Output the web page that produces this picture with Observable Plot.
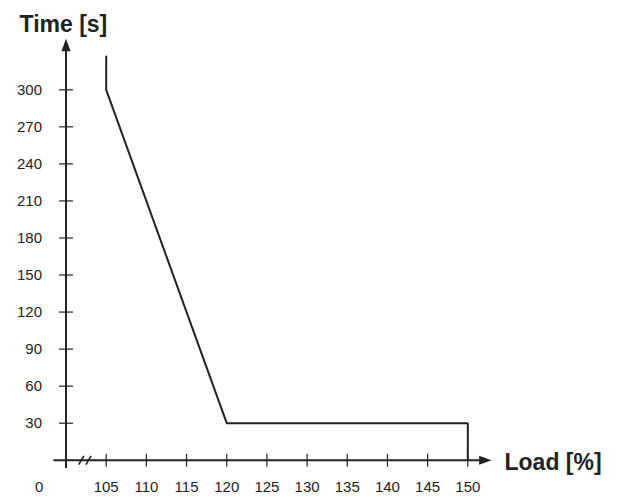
<!DOCTYPE html>
<html>
<head>
<meta charset="utf-8">
<script src="https://cdn.jsdelivr.net/npm/d3@7"></script>
<script src="https://cdn.jsdelivr.net/npm/@observablehq/plot@0.6"></script>
<style>
  html, body { margin: 0; padding: 0; background: #ffffff; }
  #chart svg { display: block; }
</style>
</head>
<body>
<div id="chart"></div>
<script>
// ---- data ----
const loadPct = [105, 105, 120, 150, 150];
const timeS   = [327, 300, 30, 30, 0];
const xTicks  = [105, 110, 115, 120, 125, 130, 135, 140, 145, 150];
const yTicks  = [30, 60, 90, 120, 150, 180, 210, 240, 270, 300];
const xTickLabels = xTicks.map(String);
const yTickLabels = yTicks.map(String);
const originLabel = "0";
const xTitle = "Load [%]";
const yTitle = "Time [s]";
// axis layout (data units): origin of the drawn axes, axis extents, break marks
const axisOriginX = 100;
const xAxisExtent = [98.5, 151.6];
const xArrowTip = 152.95;
const yAxisExtent = [-6.7, 331];
const yArrowTip = 341.3;
const breakMarks = [101.9, 102.8];

const ink = "#222";

// custom symbols
const triUp = { draw(ctx) { ctx.moveTo(0, 0); ctx.lineTo(4.6, 12.4); ctx.lineTo(-4.6, 12.4); ctx.closePath(); } };
const hTick = { draw(ctx) { ctx.moveTo(-7, 0); ctx.lineTo(7, 0); } };
const vTick = { draw(ctx) { ctx.moveTo(0, -6.5); ctx.lineTo(0, 6.5); } };
const slash = { draw(ctx) { ctx.moveTo(-2.6, 4.4); ctx.lineTo(2.6, -4.4); } };

const chart = Plot.plot({
  width: 619,
  height: 497,
  marginLeft: 105.7,
  marginRight: 151.7,
  marginTop: 89.3,
  marginBottom: 74.3,
  x: { domain: [105, 150], axis: null },
  y: { domain: [30, 300], axis: null },
  style: { background: "#ffffff", fontFamily: "'Liberation Sans', Arial, sans-serif", color: ink },
  marks: [
    // axes lines
    Plot.ruleX([axisOriginX], { x: d => d, y1: yAxisExtent[0], y2: yAxisExtent[1], stroke: ink, strokeWidth: 2 }),
    Plot.ruleY([0], { y: d => d, x1: xAxisExtent[0], x2: xAxisExtent[1], stroke: ink, strokeWidth: 2 }),
    // arrowheads
    Plot.dot([0], { x: () => axisOriginX, y: () => yArrowTip, symbol: triUp, fill: ink, stroke: "none" }),
    Plot.dot([0], { x: () => xArrowTip, y: () => 0, symbol: triUp, rotate: 90, fill: ink, stroke: "none" }),
    // ticks
    Plot.dot(yTicks, { x: () => axisOriginX, y: d => d, symbol: hTick, fill: "none", stroke: ink, strokeWidth: 1.2 }),
    Plot.dot(xTicks, { x: d => d, y: () => 0, symbol: vTick, fill: "none", stroke: ink, strokeWidth: 1.2 }),
    // axis break
    Plot.dot(breakMarks, { x: d => d, y: () => 0, symbol: slash, fill: "none", stroke: ink, strokeWidth: 1.6 }),
    // data line
    Plot.line(d3.range(loadPct.length), {
      x: i => loadPct[i], y: i => timeS[i],
      stroke: ink, strokeWidth: 2, strokeLinejoin: "miter", curve: "linear"
    }),
    // tick labels
    Plot.text(yTicks, { x: () => axisOriginX, y: d => d, text: (d, i) => yTickLabels[i], textAnchor: "end", dx: -24, fontSize: 15, fill: ink }),
    Plot.text(xTicks, { x: d => d, y: () => 0, text: (d, i) => xTickLabels[i], dy: 27.3, fontSize: 15, fill: ink }),
    Plot.text([originLabel], { x: () => axisOriginX, y: () => 0, text: d => d, textAnchor: "end", dx: -22.7, dy: 27.3, fontSize: 15, fill: ink }),
    // axis titles
    Plot.text([yTitle], { frameAnchor: "top-left", text: d => d, textAnchor: "start", dx: -86.7, dy: -74, fontSize: 23, fontWeight: "bold", fill: ink }),
    Plot.text([xTitle], { x: () => 150, y: () => 0, text: d => d, textAnchor: "start", dx: 36.7, dy: 2, fontSize: 23, fontWeight: "bold", fill: ink })
  ]
});
document.getElementById("chart").appendChild(chart);
</script>
</body>
</html>
